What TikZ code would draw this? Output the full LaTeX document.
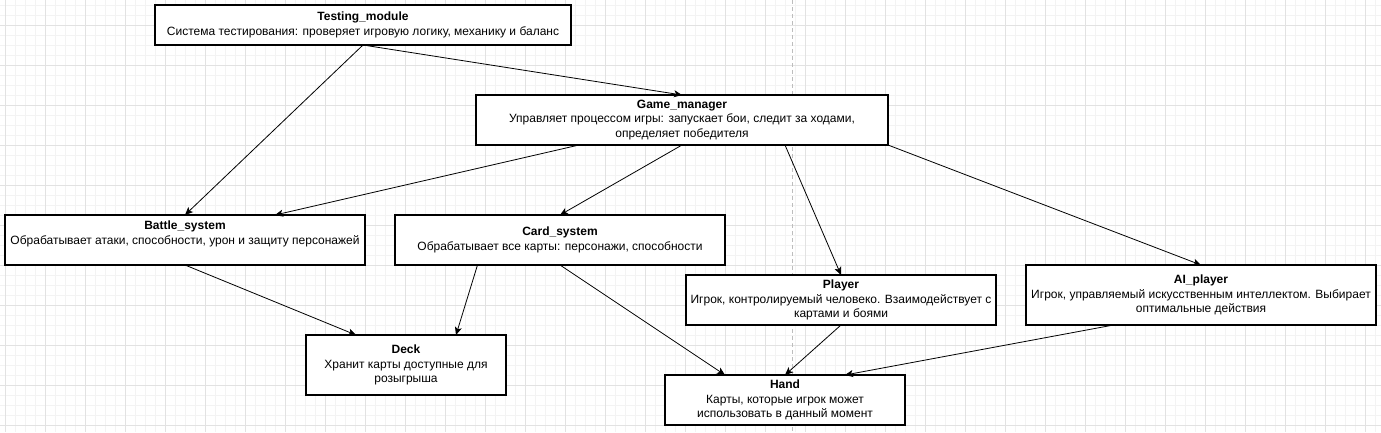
\documentclass[tikz,border=0pt]{standalone}
\usepackage{fontspec}
\setmainfont{Liberation Sans}
\usepackage{tikz}
\usetikzlibrary{calc,arrows.meta}
\definecolor{gridmajor}{HTML}{E2E2E2}
\definecolor{gridminor}{HTML}{F3F3F3}
\definecolor{splitline}{HTML}{BDBDBD}
\tikzstyle{block} = [rectangle, draw, fill=white, line width=1.2pt, align=center, inner sep=0pt, outer sep=0pt, font=\fontsize{12}{14.5}\selectfont]
\tikzstyle{line} = [draw, line width=0.8pt, -{Stealth[length=8pt,width=7pt,inset=2pt]}]

\begin{document}
\begin{tikzpicture}[x=1pt, y=-1pt]
    \fill [white] (0,0) rectangle (1381,432);
    \useasboundingbox (0,0) rectangle (1381,432);
    % background grid
    \foreach \x in {5,15,...,1375} \draw [gridminor, line width=0.5pt] (\x,0) -- (\x,432);
    \foreach \y in {5,15,...,425} \draw [gridminor, line width=0.5pt] (0,\y) -- (1381,\y);
    \foreach \x in {5,45,...,1365} \draw [gridmajor, line width=0.8pt] (\x,0) -- (\x,432);
    \foreach \y in {25,65,...,425} \draw [gridmajor, line width=0.8pt] (0,\y) -- (1381,\y);
    \draw [splitline, line width=0.8pt, dash pattern=on 4pt off 3pt] (792,0) -- (792,432);

    \node [block, minimum width=416, minimum height=40] (testing) at (363,25) {\textbf{Testing\_module}\\Система тестирования: проверяет игровую логику, механику и баланс};
    \node [block, minimum width=412, minimum height=50] (manager) at (682,120) {\textbf{Game\_manager}\\Управляет процессом игры: запускает бои, следит за ходами,\\определяет победителя};
    \node [block, minimum width=360, minimum height=50] (battle) at (185,240) {\textbf{Battle\_system}\\Обрабатывает атаки, способности, урон и защиту персонажей\\~};
    \node [block, minimum width=330, minimum height=50] (cards) at (560,240) {\textbf{Card\_system}\\Обрабатывает все карты: персонажи, способности};
    \node [block, minimum width=310, minimum height=50] (player) at (841,300) {\textbf{Player}\\Игрок, контролируемый человеко. Взаимодействует с\\картами и боями};
    \node [block, minimum width=350, minimum height=60] (aiplayer) at (1201,295) {\textbf{AI\_player}\\Игрок, управляемый искусственным интеллектом. Выбирает\\оптимальные действия};
    \node [block, minimum width=200, minimum height=60] (deck) at (406,365) {\textbf{Deck}\\Хранит карты доступные для\\розыгрыша};
    \node [block, minimum width=240, minimum height=50] (hand) at (785,400) {\textbf{Hand}\\Карты, которые игрок может\\использовать в данный момент};

    \path [line] (testing.south) -- (manager.north);
    \path [line] (testing.south) -- (battle.north);
    \path [line] ($(manager.south west)!0.25!(manager.south east)$) -- ($(battle.north west)!0.75!(battle.north east)$);
    \path [line] (manager.south) -- (cards.north);
    \path [line] ($(manager.south west)!0.75!(manager.south east)$) -- (player.north);
    \path [line] (manager.south east) -- (aiplayer.north);
    \path [line] (battle.south) -- ($(deck.north west)!0.25!(deck.north east)$);
    \path [line] ($(cards.south west)!0.25!(cards.south east)$) -- ($(deck.north west)!0.75!(deck.north east)$);
    \path [line] (cards.south) -- ($(hand.north west)!0.25!(hand.north east)$);
    \path [line] (player.south) -- (hand.north);
    \path [line] ($(aiplayer.south west)!0.25!(aiplayer.south east)$) -- ($(hand.north west)!0.75!(hand.north east)$);
\end{tikzpicture}
\end{document}
